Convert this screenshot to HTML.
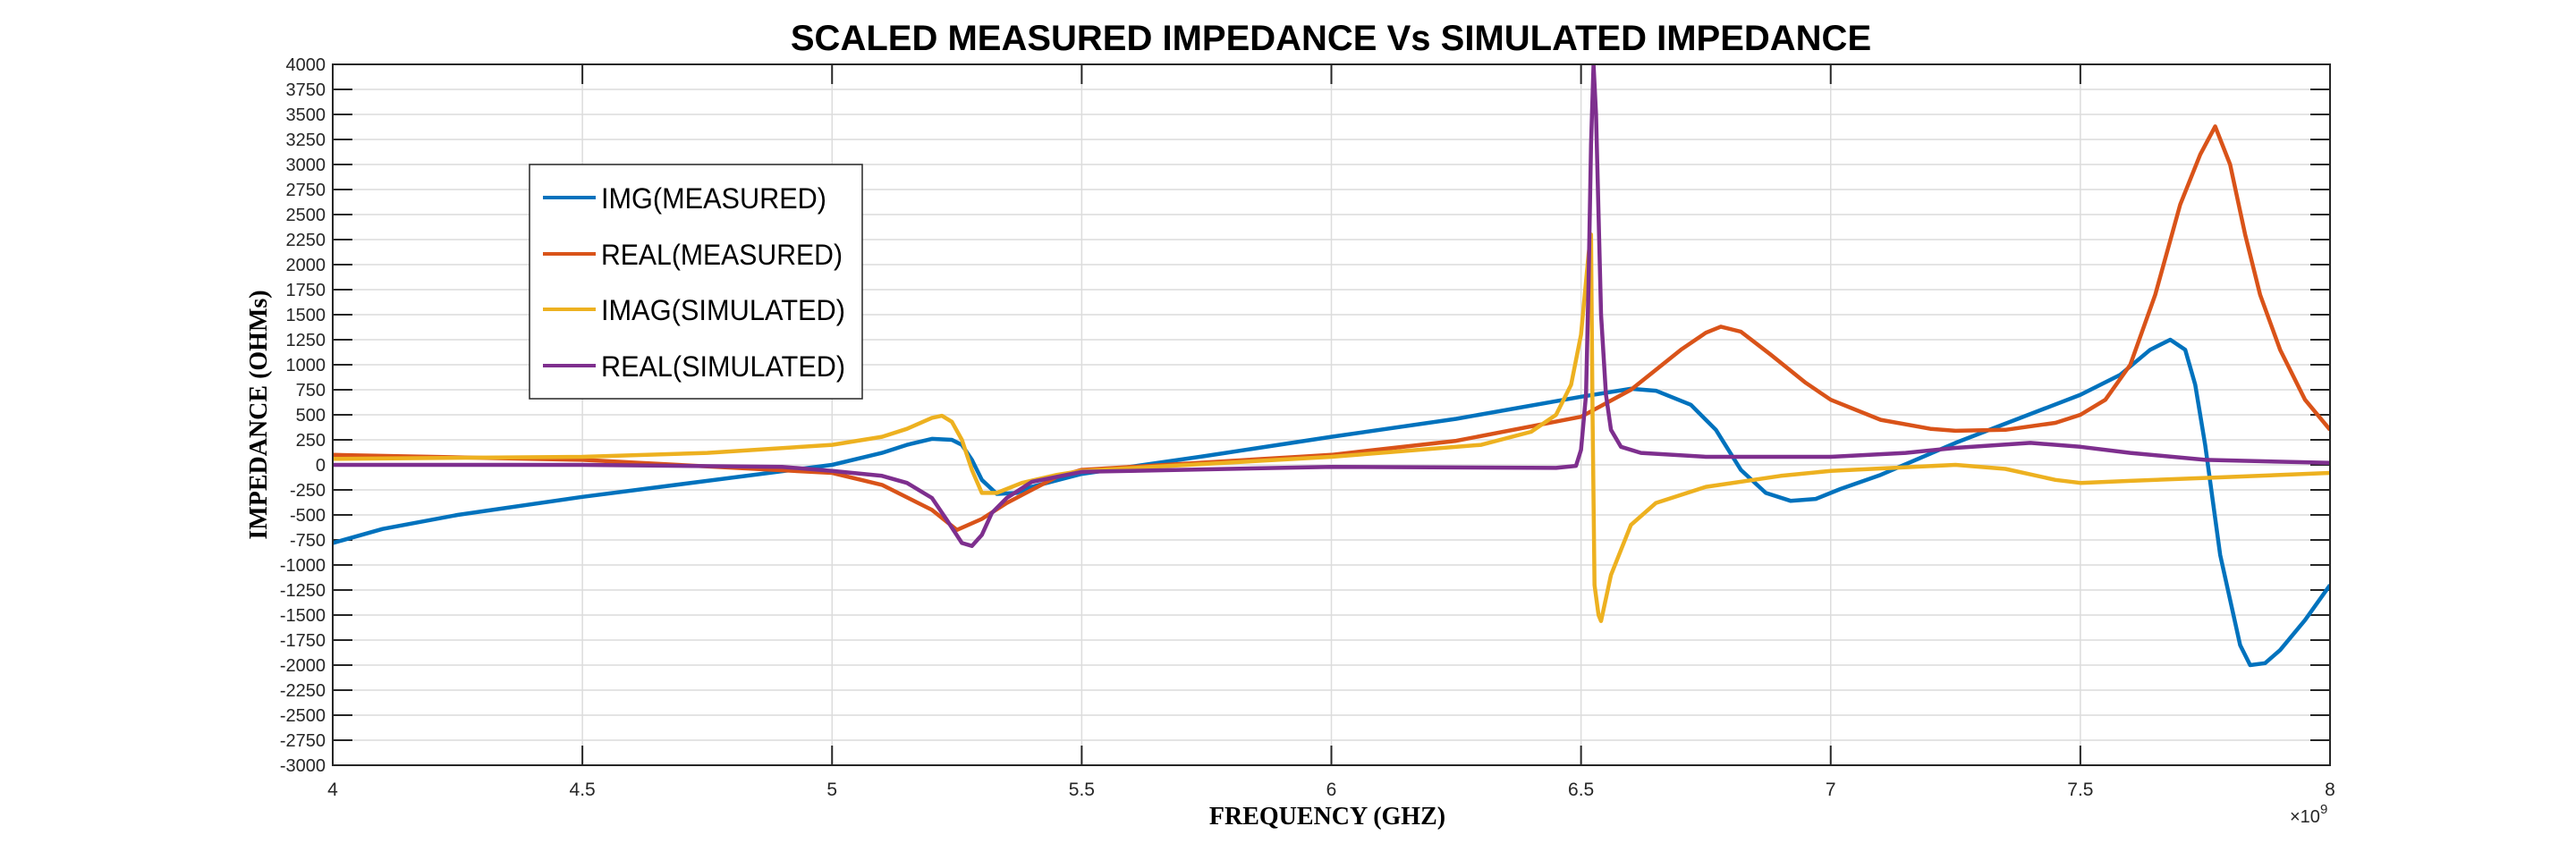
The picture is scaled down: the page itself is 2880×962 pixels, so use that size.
<!DOCTYPE html>
<html><head><meta charset="utf-8"><style>
html,body{margin:0;padding:0;background:#fff}
svg{display:block}
text{font-family:"Liberation Sans",sans-serif}
</style></head><body>
<svg id="chart" width="2880" height="962" viewBox="0 0 2880 962">
<rect x="0" y="0" width="2880" height="962" fill="#fff"/>
<text x="1488" y="56" text-anchor="middle" font-size="40" font-weight="bold">SCALED MEASURED IMPEDANCE Vs SIMULATED IMPEDANCE</text>
<g id="grid"></g><g id="ticks"></g>
<defs><clipPath id="pc"><rect x="372" y="72" width="2233" height="784"/></clipPath></defs>
<g id="series" clip-path="url(#pc)"></g>
<rect x="372" y="72" width="2233" height="784" fill="none" stroke="#262626" stroke-width="2"/>
<text transform="translate(298,464) rotate(-90)" text-anchor="middle" font-size="28" font-weight="bold" style="font-family:'Liberation Serif',serif">IMPEDANCE (OHMs)</text>
<text x="1484" y="922" text-anchor="middle" font-size="28" font-weight="bold" style="font-family:'Liberation Serif',serif">FREQUENCY (GHZ)</text>
<text x="2560" y="920" font-size="20" fill="#262626">×10<tspan dy="-10" font-size="15">9</tspan></text>
<g id="legend">
<rect x="592" y="184" width="372" height="262" fill="#fff" stroke="#262626" stroke-width="1.5"/>
</g>
</svg>
<script>
const xTicks=[4,4.5,5,5.5,6,6.5,7,7.5,8];
const xTickLabels=["4","4.5","5","5.5","6","6.5","7","7.5","8"];
const yTicks=[];for(let v=-3000;v<=4000;v+=250)yTicks.push(v);
const seriesNames=["IMG(MEASURED)","REAL(MEASURED)","IMAG(SIMULATED)","REAL(SIMULATED)"];
const seriesColors=["#0072BD","#D95319","#EDB120","#7E2F8E"];
const imgMeasF=[4.0,4.1,4.25,4.5,4.75,5.0,5.1,5.15,5.2,5.24,5.26,5.28,5.3,5.33,5.37,5.4,5.5,5.75,6.0,6.25,6.5,6.6,6.65,6.72,6.77,6.82,6.87,6.92,6.97,7.02,7.1,7.25,7.5,7.58,7.64,7.68,7.71,7.73,7.75,7.78,7.82,7.84,7.87,7.9,7.95,8.0];
const imgMeasV=[-780,-640,-500,-320,-160,0,120,200,260,250,200,50,-150,-290,-280,-220,-90,90,280,460,680,760,740,600,350,-50,-280,-360,-340,-240,-100,220,700,900,1150,1250,1150,800,200,-900,-1800,-2000,-1980,-1850,-1550,-1200];
const realMeasF=[4.0,4.5,5.0,5.1,5.2,5.25,5.3,5.35,5.45,5.5,6.0,6.25,6.5,6.6,6.65,6.7,6.75,6.78,6.82,6.88,6.95,7.0,7.1,7.2,7.25,7.35,7.45,7.5,7.55,7.6,7.65,7.7,7.74,7.77,7.8,7.83,7.86,7.9,7.95,8.0];
const realMeasV=[100,50,-80,-200,-450,-650,-540,-380,-120,-50,100,240,480,750,950,1150,1320,1380,1330,1100,820,650,450,360,340,350,420,500,650,1000,1700,2600,3100,3380,3000,2300,1700,1150,650,350];
const imagSimF=[4.0,4.5,4.75,5.0,5.1,5.15,5.2,5.22,5.24,5.26,5.28,5.3,5.33,5.38,5.45,5.5,6.0,6.3,6.4,6.45,6.48,6.5,6.515,6.52,6.523,6.527,6.535,6.54,6.56,6.6,6.65,6.75,6.9,7.0,7.25,7.35,7.45,7.5,7.6,7.75,8.0];
const imagSimV=[60,80,120,200,280,360,470,490,430,250,-50,-280,-280,-180,-100,-60,80,200,330,500,800,1300,2100,2300,500,-1200,-1500,-1560,-1100,-600,-380,-220,-110,-60,0,-40,-150,-180,-160,-130,-80];
const realSimF=[4.0,4.5,4.9,5.0,5.1,5.15,5.2,5.23,5.26,5.28,5.3,5.32,5.35,5.4,5.5,6.0,6.45,6.49,6.5,6.51,6.515,6.52,6.525,6.53,6.535,6.54,6.55,6.56,6.58,6.62,6.75,7.0,7.15,7.25,7.4,7.5,7.6,7.75,8.0];
const realSimV=[0,0,-20,-60,-110,-180,-330,-550,-780,-810,-700,-480,-330,-170,-70,-20,-30,-10,150,700,1800,3200,4000,3500,2500,1500,700,350,180,120,80,80,120,170,220,180,120,50,20];
const L=372,R=2605,T=72,B=856;
const sx=v=>L+(v-4)/4*(R-L);
const sy=v=>B-(v+3000)/7000*(B-T);
const NS="http://www.w3.org/2000/svg";
function mk(tag,attrs,parent){const e=document.createElementNS(NS,tag);for(const k in attrs)e.setAttribute(k,attrs[k]);parent.appendChild(e);return e;}
const grid=document.getElementById('grid'),ticks=document.getElementById('ticks');
xTicks.forEach((v,i)=>{
  const x=sx(v);
  const g=mk('line',{x1:x,x2:x,y1:T,y2:B,stroke:'#dcdcdc','stroke-width':1.5},grid);
  
  
  mk('line',{x1:x,x2:x,y1:B,y2:B-22,stroke:'#262626','stroke-width':2},ticks);
  mk('line',{x1:x,x2:x,y1:T,y2:T+22,stroke:'#262626','stroke-width':2},ticks);
  const t=mk('text',{x:x,y:B+34,'text-anchor':'middle','font-size':21,fill:'#262626'},ticks);
  t.textContent=xTickLabels[i];
  
  
});
yTicks.forEach(v=>{
  const y=sy(v);
  const g=mk('line',{x1:L,x2:R,y1:y,y2:y,stroke:'#dcdcdc','stroke-width':1.5},grid);
  
  
  mk('line',{x1:L,x2:L+22,y1:y,y2:y,stroke:'#262626','stroke-width':2},ticks);
  mk('line',{x1:R,x2:R-22,y1:y,y2:y,stroke:'#262626','stroke-width':2},ticks);
  const t=mk('text',{x:L-8,y:y+7,'text-anchor':'end','font-size':20,fill:'#262626'},ticks);
  t.textContent=String(v);
  
  
});
const data=[[imgMeasF,imgMeasV],[realMeasF,realMeasV],[imagSimF,imagSimV],[realSimF,realSimV]];
const sg=document.getElementById('series');
const lineNames=['img-measured-line','real-measured-line','imag-simulated-line','real-simulated-line'];
data.forEach((d,i)=>{
  const pts=d[0].map((f,j)=>sx(f).toFixed(1)+','+sy(d[1][j]).toFixed(1)).join(' ');
  const p=mk('polyline',{points:pts,fill:'none',stroke:seriesColors[i],'stroke-width':4.5,'stroke-linejoin':'round'},sg);
  
  
});
const lg=document.getElementById('legend');
const ly=[221,284,346,409];
seriesNames.forEach((n,i)=>{
  const l=mk('line',{x1:607,x2:666,y1:ly[i],y2:ly[i],stroke:seriesColors[i],'stroke-width':4},lg);
  
  
  const t=mk('text',{x:672,y:ly[i]+12,'font-size':32,fill:'#000',textLength:[252,270,273,273][i],lengthAdjust:'spacingAndGlyphs'},lg);
  t.textContent=n;
  
  
});
</script>
</body></html>
